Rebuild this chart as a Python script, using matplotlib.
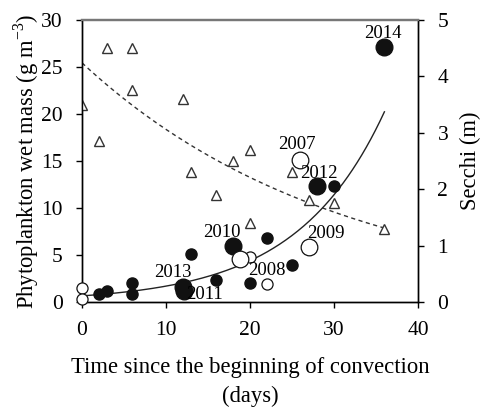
import numpy as np
import matplotlib
matplotlib.use("Agg")
import matplotlib.pyplot as plt

plt.rcParams['font.family'] = ['Liberation Serif', 'DejaVu Serif']
plt.rcParams['mathtext.fontset'] = 'custom'
plt.rcParams['mathtext.rm'] = 'Liberation Serif'

# Secchi depth (m), right axis
secchi_days = [0, 2, 3, 6, 6, 12, 13, 16, 18, 20, 20, 25, 27, 30, 36]
secchi_m = [3.5, 2.85, 4.5, 4.5, 3.75, 3.6, 2.3, 1.9, 2.5, 2.7, 1.4, 2.3, 1.8, 1.75, 1.3]

# Phytoplankton small filled
pf_days = [2, 3, 6, 6, 13, 16, 20, 22, 25, 30]
pf_mass = [0.8, 1.2, 2.0, 0.85, 5.1, 2.35, 2.0, 6.8, 3.9, 12.3]
# small open
po_days = [0, 0, 20, 22]
po_mass = [1.5, 0.3, 4.8, 1.9]
# large filled (labelled years)
lf_days = [12.1, 12, 18, 28, 36]
lf_mass = [1.2, 1.6, 6.0, 12.3, 27.1]
lf_years = ['2011', '2013', '2010', '2012', '2014']
# large open
lo_days = [18.8, 26, 27]
lo_mass = [4.6, 15.1, 5.9]
lo_years = ['', '2007', '2009']

# year label positions (days, mass)
lab_years = ['2014', '2007', '2012', '2010', '2009', '2008', '2013', '2011']
lab_x = [35.8, 25.6, 28.2, 16.6, 29.0, 22.0, 10.8, 14.6]
lab_y = [28.6, 16.8, 13.7, 7.4, 7.3, 3.4, 3.1, 0.8]

# fitted curves
grow_a, grow_b = 0.65, 0.0955     # phytoplankton = a*exp(b*t)
decay_a, decay_b = 4.24, 0.0326   # secchi = a*exp(-b*t)

fig = plt.figure(figsize=(4.8, 4.08), dpi=100)
ax = fig.add_axes([82/480, 1-302/408, 336/480, 282/408])
ax2 = ax.twinx()

ax.set_xlim(0, 40)
ax.set_ylim(0, 30)
ax2.set_ylim(0, 5)

fs_ann = 13.5
fs_tick = 15.5
fs_lab = 16.3
t = np.linspace(0, 36, 200)
ax.plot(t, grow_a*np.exp(grow_b*t), color='#222222', lw=1.0, zorder=2)
ax2.plot(t, decay_a*np.exp(-decay_b*t), color='#333333', lw=1.0, ls=(0, (3, 2.5)), zorder=2)

ax2.plot(secchi_days, secchi_m, ls='none', marker='^', ms=6.5, mfc='white',
         mec='#333333', mew=1.0, zorder=3)

ax.plot(pf_days, pf_mass, ls='none', marker='o', ms=8, mfc='#111111', mec='#111111', zorder=4, clip_on=False)
ax.plot(po_days, po_mass, ls='none', marker='o', ms=8, mfc='white', mec='#111111', mew=0.9, zorder=4, clip_on=False)
ax.plot(lf_days, lf_mass, ls='none', marker='o', ms=12, mfc='#111111', mec='#111111', zorder=4)
ax.plot(lo_days, lo_mass, ls='none', marker='o', ms=12, mfc='white', mec='#111111', mew=0.9, zorder=4)

for s, x, y in zip(lab_years, lab_x, lab_y):
    ax.text(x, y, s, ha='center', va='center', fontsize=fs_ann, zorder=5)

ax.set_zorder(ax2.get_zorder()+1)
ax.patch.set_visible(False)

ax.set_xticks([0, 10, 20, 30, 40])
ax.set_yticks([0, 5, 10, 15, 20, 25, 30])
ax2.set_yticks([0, 1, 2, 3, 4, 5])
for a in (ax, ax2):
    a.tick_params(direction='out', length=4, width=1, labelsize=fs_tick, pad=10)
    for sp in a.spines.values():
        sp.set_linewidth(1.0)
    a.spines['top'].set_color('#777777')
    a.spines['top'].set_linewidth(1.6)
ax.tick_params(axis='x', pad=10)

ax.set_ylabel('Phytoplankton wet mass (g m$^{-3}$)', fontsize=fs_lab, labelpad=0)
ax2.set_ylabel('Secchi (m)', fontsize=fs_lab, labelpad=8)
ax.set_xlabel('Time since the beginning of convection\n(days)', fontsize=fs_lab, labelpad=12, linespacing=1.45)

fig.savefig('out.png', dpi=100)
